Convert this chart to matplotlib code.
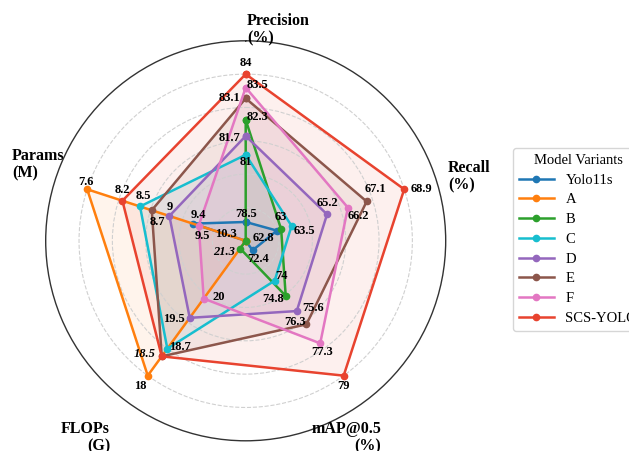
import numpy as np
import matplotlib.pyplot as plt

plt.rcParams["font.family"] = ["Liberation Serif", "DejaVu Serif"]

# Metrics around the radar, clockwise from the top
metrics = ["Precision", "Recall", "mAP@0.5", "FLOPs", "Params"]
lower_is_better = [False, False, False, True, True]

models = ["Yolo11s", "A", "B", "C", "D", "E", "F", "SCS-YOLO"]
colors = ["#1f77b4", "#ff7f0e", "#2ca02c", "#17becf",
          "#9467bd", "#8c564b", "#e377c2", "#e8432f"]

precision = [78.5, 77.8, 82.3, 81.0, 81.7, 83.1, 83.5, 84.0]
recall = [62.8, 61.3, 63.0, 63.5, 65.2, 67.1, 66.2, 68.9]
map50 = [72.4, 71.9, 74.8, 74.0, 75.6, 76.3, 77.3, 79.0]
flops = [21.5, 18.0, 21.3, 18.7, 19.5, 18.5, 20.0, 18.5]
params = [9.4, 7.6, 10.3, 8.5, 9.0, 8.7, 9.5, 8.2]

data = np.array([precision, recall, map50, flops, params]).T

# min-max scaling per metric, flipped where smaller is better
lo, hi = data.min(axis=0), data.max(axis=0)
norm = (data - lo) / (hi - lo)
for j, flip in enumerate(lower_is_better):
    if flip:
        norm[:, j] = 1 - norm[:, j]

angles = np.linspace(0, 2 * np.pi, len(metrics), endpoint=False)
angles_closed = np.append(angles, angles[0])

# label offsets in pixels (dx, dy) for each value, dy measured downward
offsets = {
    "Yolo11s": [(0, -8), (-14, 7), (6, 9), None, (6, -9)],
    "A": [None, None, None, (-7, 10), (-1, -7)],
    "B": [(12, -3), (0, -12), (-13, 3), (-16, 3), (-20, -7)],
    "C": [(0, 7), (13, 5), (7, -5), (13, -2), (3, -10)],
    "D": [(-16, 2), (0, -11), (16, -3), (-16, 1), (0, -9)],
    "E": [(-16, 0), (9, -12), (-11, -2), None, (6, 12)],
    "F": [(12, -3), (10, 8), (2, 9), (15, -2), (4, 10)],
    "SCS-YOLO": [(0, -11), (17, 0), (0, 10), (-17, -2), (0, -11)],
}
italic = {("B", 3), ("SCS-YOLO", 3)}

fig = plt.figure(figsize=(6.29, 4.51), dpi=100)
ax = fig.add_axes([45.7 / 629, 1 - 440.8 / 451, 400 / 629, 400 / 451],
                  projection="polar")
ax.set_theta_offset(np.pi / 2)
ax.set_theta_direction(-1)
ax.set_ylim(0, 1.2)

ax.set_xticks(angles)
ax.set_xticklabels([])
ax.set_yticks([0.2, 0.4, 0.6, 0.8, 1.0])
ax.set_yticklabels([])
ax.xaxis.grid(False)
ax.yaxis.grid(True, color="#d0d0d0", linestyle="--", linewidth=0.8)
ax.spines["polar"].set_color("#333333")
ax.spines["polar"].set_linewidth(1.0)

for i, name in enumerate(models):
    vals = np.append(norm[i], norm[i][0])
    ax.plot(angles_closed, vals, color=colors[i], linewidth=1.8,
            marker="o", markersize=4.5, label=name)
    ax.fill(angles_closed, vals, color=colors[i], alpha=0.08)
    for j in range(len(metrics)):
        off = offsets[name][j]
        if off is None:
            continue
        ax.annotate(f"{data[i, j]:g}", (angles[j], norm[i, j]),
                    xytext=(off[0], -off[1]), textcoords="offset pixels",
                    ha="center", va="center", fontsize=9,
                    fontweight="bold",
                    fontstyle="italic" if (name, j) in italic else "normal")

# metric names around the outside
axis_labels = [
    ("Precision\n(%)", 247, 13, "left"),
    ("Recall\n(%)", 448, 160, "left"),
    ("mAP@0.5\n(%)", 381, 421, "right"),
    ("FLOPs\n(G)", 110, 421, "right"),
    ("Params\n(M)", 12, 148, "left"),
]
for text, x, y, ha in axis_labels:
    fig.text(x / 629, 1 - y / 451, text, ha=ha, va="top",
             multialignment=ha, fontsize=11.5, fontweight="bold",
             linespacing=1.1)

fig.legend(loc="upper left", bbox_to_anchor=(513 / 629, 1 - 148 / 451),
           bbox_transform=fig.transFigure, borderaxespad=0,
           title="Model Variants", fontsize=10.5, title_fontsize=10.5,
           handlelength=2.4, labelspacing=0.45, frameon=True,
           edgecolor="#cccccc")

fig.savefig("out.png", dpi=100)
